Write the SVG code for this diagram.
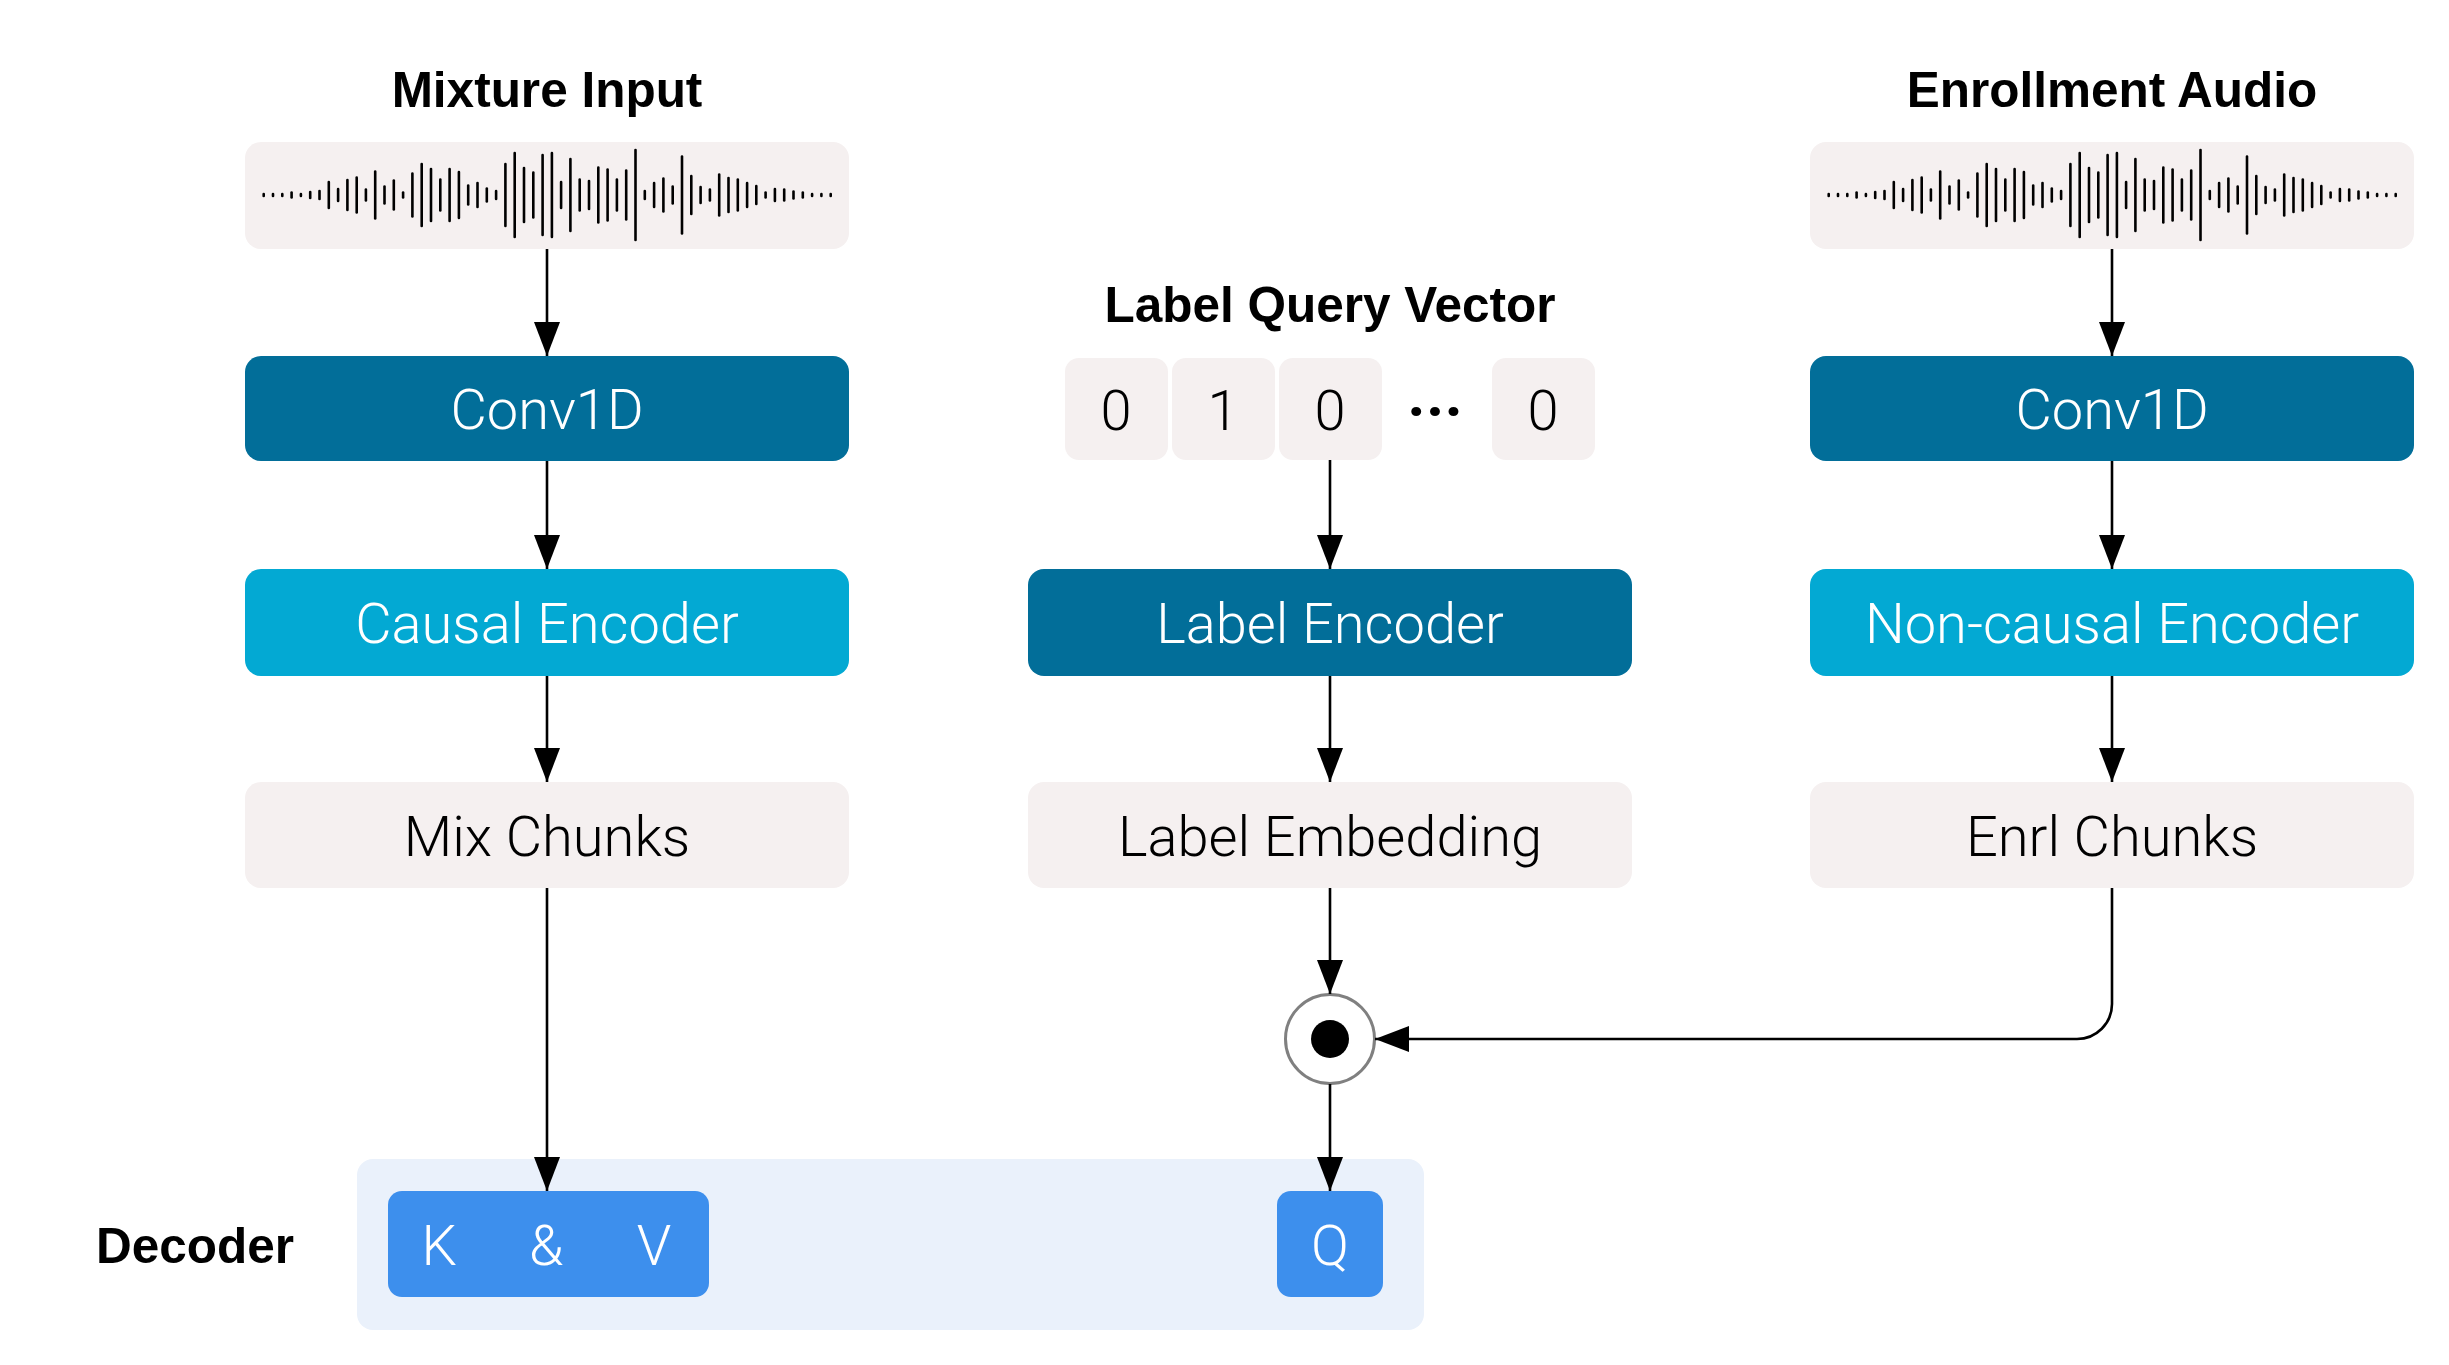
<svg xmlns="http://www.w3.org/2000/svg" xmlns:xlink="http://www.w3.org/1999/xlink" width="2449" height="1365" viewBox="0 0 2449 1365">
<defs>
<style>
.title{font-family:"Liberation Sans",Arial,sans-serif;font-weight:bold;font-size:49.5px;fill:#000;text-anchor:middle}
.lbl{font-family:Roboto,"Liberation Sans",sans-serif;font-weight:300;font-size:56px;text-anchor:middle}
.dots{font-family:Roboto,"Liberation Sans",sans-serif;font-weight:bold;font-size:62px;text-anchor:middle;fill:#000}
.w{fill:#fff}
.k{fill:#000}
.dark{fill:#026E99}
.cyan{fill:#03A9D3}
.light{fill:#F5F0F0}
.blue{fill:#3D8FED}
.wave line{stroke:#000;stroke-width:2.6;stroke-linecap:round}
.conn path{fill:none;stroke:#000;stroke-width:2.6}
</style>
<marker id="ah" markerUnits="userSpaceOnUse" markerWidth="36" markerHeight="28" refX="34" refY="13" orient="auto">
<path d="M0,0 L34,13 L0,26 z" fill="#000"/>
</marker>
<g id="wave" class="wave">
<line x1="263.7" y1="194" x2="263.7" y2="196"/>
<line x1="273.0" y1="194" x2="273.0" y2="196"/>
<line x1="282.3" y1="194" x2="282.3" y2="196"/>
<line x1="291.6" y1="192.5" x2="291.6" y2="197.5"/>
<line x1="300.9" y1="194" x2="300.9" y2="196"/>
<line x1="310.2" y1="192" x2="310.2" y2="198"/>
<line x1="319.5" y1="191" x2="319.5" y2="199"/>
<line x1="328.8" y1="182" x2="328.8" y2="208"/>
<line x1="338.1" y1="189" x2="338.1" y2="201"/>
<line x1="347.4" y1="180" x2="347.4" y2="210"/>
<line x1="356.7" y1="177.5" x2="356.7" y2="212.5"/>
<line x1="365.9" y1="189.5" x2="365.9" y2="200.5"/>
<line x1="375.2" y1="171.5" x2="375.2" y2="218.5"/>
<line x1="384.5" y1="186.5" x2="384.5" y2="203.5"/>
<line x1="393.8" y1="180.5" x2="393.8" y2="209.5"/>
<line x1="403.1" y1="192.5" x2="403.1" y2="197.5"/>
<line x1="412.4" y1="173.5" x2="412.4" y2="216.5"/>
<line x1="421.7" y1="164" x2="421.7" y2="226"/>
<line x1="431.0" y1="169" x2="431.0" y2="221"/>
<line x1="440.3" y1="179.5" x2="440.3" y2="210.5"/>
<line x1="449.6" y1="169" x2="449.6" y2="221"/>
<line x1="458.9" y1="172" x2="458.9" y2="218"/>
<line x1="468.2" y1="185.5" x2="468.2" y2="204.5"/>
<line x1="477.5" y1="183" x2="477.5" y2="207"/>
<line x1="486.8" y1="188.5" x2="486.8" y2="201.5"/>
<line x1="496.1" y1="191" x2="496.1" y2="199"/>
<line x1="505.4" y1="164" x2="505.4" y2="226"/>
<line x1="514.7" y1="153" x2="514.7" y2="237"/>
<line x1="524.0" y1="168" x2="524.0" y2="222"/>
<line x1="533.3" y1="172.5" x2="533.3" y2="217.5"/>
<line x1="542.6" y1="155" x2="542.6" y2="235"/>
<line x1="551.9" y1="153" x2="551.9" y2="237"/>
<line x1="561.1" y1="182" x2="561.1" y2="208"/>
<line x1="570.4" y1="159" x2="570.4" y2="231"/>
<line x1="579.7" y1="179.5" x2="579.7" y2="210.5"/>
<line x1="589.0" y1="181" x2="589.0" y2="209"/>
<line x1="598.3" y1="167.5" x2="598.3" y2="222.5"/>
<line x1="607.6" y1="169.5" x2="607.6" y2="220.5"/>
<line x1="616.9" y1="179.5" x2="616.9" y2="210.5"/>
<line x1="626.2" y1="170.5" x2="626.2" y2="219.5"/>
<line x1="635.5" y1="150" x2="635.5" y2="240"/>
<line x1="644.8" y1="191" x2="644.8" y2="199"/>
<line x1="654.1" y1="183" x2="654.1" y2="207"/>
<line x1="663.4" y1="178.5" x2="663.4" y2="211.5"/>
<line x1="672.7" y1="186.5" x2="672.7" y2="203.5"/>
<line x1="682.0" y1="156.5" x2="682.0" y2="233.5"/>
<line x1="691.3" y1="176" x2="691.3" y2="214"/>
<line x1="700.6" y1="187" x2="700.6" y2="203"/>
<line x1="709.9" y1="189.5" x2="709.9" y2="200.5"/>
<line x1="719.2" y1="174.5" x2="719.2" y2="215.5"/>
<line x1="728.5" y1="178" x2="728.5" y2="212"/>
<line x1="737.8" y1="179.5" x2="737.8" y2="210.5"/>
<line x1="747.1" y1="183" x2="747.1" y2="207"/>
<line x1="756.3" y1="186" x2="756.3" y2="204"/>
<line x1="765.6" y1="192.5" x2="765.6" y2="197.5"/>
<line x1="774.9" y1="189" x2="774.9" y2="201"/>
<line x1="784.2" y1="189.5" x2="784.2" y2="200.5"/>
<line x1="793.5" y1="191.5" x2="793.5" y2="198.5"/>
<line x1="802.8" y1="192.5" x2="802.8" y2="197.5"/>
<line x1="812.1" y1="194" x2="812.1" y2="196"/>
<line x1="821.4" y1="194" x2="821.4" y2="196"/>
<line x1="830.7" y1="194" x2="830.7" y2="196"/>
</g>
</defs>

<g id="mixture-title"><text class="title" x="547" y="107">Mixture Input</text></g>
<g id="mixture-input"><rect class="light" x="245" y="142" width="604" height="107" rx="16"/><use xlink:href="#wave"/></g>
<g id="conv1d-mix"><rect class="dark" x="245" y="356" width="604" height="105" rx="16"/><text class="lbl w" x="547" y="429">Conv1D</text></g>
<g id="causal-encoder"><rect class="cyan" x="245" y="569" width="604" height="107" rx="16"/><text class="lbl w" x="547" y="643">Causal Encoder</text></g>
<g id="mix-chunks"><rect class="light" x="245" y="782" width="604" height="106" rx="16"/><text class="lbl k" x="547" y="856">Mix Chunks</text></g>

<g id="label-query-title"><text class="title" x="1330" y="322">Label Query Vector</text></g>
<g id="label-query-vector">
<rect class="light" x="1065" y="358" width="103" height="102" rx="14"/>
<rect class="light" x="1172" y="358" width="103" height="102" rx="14"/>
<rect class="light" x="1279" y="358" width="103" height="102" rx="14"/>
<rect class="light" x="1492" y="358" width="103" height="102" rx="14"/>
<text class="lbl k" x="1116" y="430">0</text>
<text class="lbl k" x="1223" y="430">1</text>
<text class="lbl k" x="1330" y="430">0</text>
<text class="dots" x="1435" y="432">···</text>
<text class="lbl k" x="1543" y="430">0</text>
</g>
<g id="label-encoder"><rect class="dark" x="1028" y="569" width="604" height="107" rx="16"/><text class="lbl w" x="1330" y="643">Label Encoder</text></g>
<g id="label-embedding"><rect class="light" x="1028" y="782" width="604" height="106" rx="16"/><text class="lbl k" x="1330" y="856">Label Embedding</text></g>
<g id="dot-product"><circle cx="1330" cy="1039" r="44.5" fill="#fff" stroke="#808080" stroke-width="3"/><circle cx="1330" cy="1039" r="19" fill="#000"/></g>

<g id="enroll-title"><text class="title" x="2112" y="107">Enrollment Audio</text></g>
<g id="enrollment-audio"><rect class="light" x="1810" y="142" width="604" height="107" rx="16"/><use xlink:href="#wave" transform="translate(1565,0)"/></g>
<g id="conv1d-enrl"><rect class="dark" x="1810" y="356" width="604" height="105" rx="16"/><text class="lbl w" x="2112" y="429">Conv1D</text></g>
<g id="noncausal-encoder"><rect class="cyan" x="1810" y="569" width="604" height="107" rx="16"/><text class="lbl w" x="2112" y="643">Non-causal Encoder</text></g>
<g id="enrl-chunks"><rect class="light" x="1810" y="782" width="604" height="106" rx="16"/><text class="lbl k" x="2112" y="856">Enrl Chunks</text></g>

<g id="decoder">
<text class="title" x="195" y="1263">Decoder</text>
<rect x="357" y="1159" width="1067" height="171" rx="16" fill="#EAF1FB"/>
</g>
<g id="kv"><rect class="blue" x="388" y="1191" width="321" height="106" rx="14"/><text class="lbl w" y="1265"><tspan x="446">K</tspan> <tspan x="553">&amp;</tspan> <tspan x="654">V</tspan></text></g>
<g id="q"><rect class="blue" x="1277" y="1191" width="106" height="106" rx="14"/><text class="lbl w" x="1330" y="1265">Q</text></g>

<g id="connectors" class="conn">
<path d="M547,249 V356" marker-end="url(#ah)"/>
<path d="M547,461 V569" marker-end="url(#ah)"/>
<path d="M547,676 V782" marker-end="url(#ah)"/>
<path d="M547,888 V1191" marker-end="url(#ah)"/>
<path d="M1330,460 V569" marker-end="url(#ah)"/>
<path d="M1330,676 V782" marker-end="url(#ah)"/>
<path d="M1330,888 V994" marker-end="url(#ah)"/>
<path d="M1330,1084 V1191" marker-end="url(#ah)"/>
<path d="M2112,249 V356" marker-end="url(#ah)"/>
<path d="M2112,461 V569" marker-end="url(#ah)"/>
<path d="M2112,676 V782" marker-end="url(#ah)"/>
<path d="M2112,888 V1004 A35,35 0 0 1 2077,1039 H1375" marker-end="url(#ah)"/>
</g>
</svg>
